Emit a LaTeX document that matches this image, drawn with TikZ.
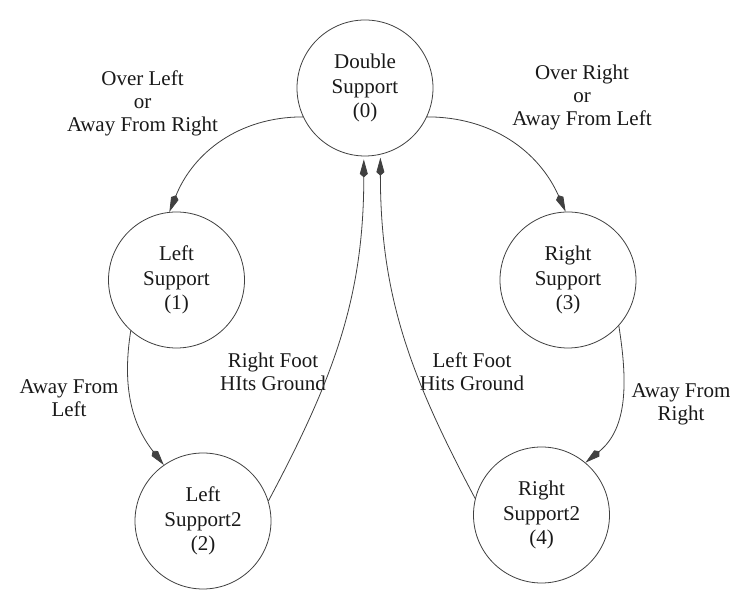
\documentclass[tikz,border=0pt]{standalone}
\usepackage{fontspec}
\setmainfont{Liberation Serif}
\usetikzlibrary{arrows.meta}
\begin{document}
\begin{tikzpicture}[x=1pt,y=1pt,
  state/.style={circle,draw=black!75,line width=0.8pt,minimum size=136pt,inner sep=0pt,align=center,font=\fontsize{21}{24.5}\selectfont,text=black!90},
  lbl/.style={align=center,font=\fontsize{21}{23}\selectfont,text=black!90,inner sep=0pt},
  edge/.style={draw=black!75,line width=0.8pt,-{Kite[length=18pt,width=8pt,inset=3.5pt]}}]
\path[use as bounding box,fill=white] (0,0) rectangle (753,593);
\node[state] (n0) at (365,505) {Double\\Support\\(0)};
\node[state] (n1) at (176.5,313) {Left\\Support\\(1)};
\node[state] (n3) at (568,313) {Right\\Support\\(3)};
\node[state] (n2) at (203,72) {Left\\Support2\\(2)};
\node[state] (n4) at (541.5,78) {Right\\Support2\\(4)};
\node[lbl] (l01) at (142.5,490) {Over Left\\or\\Away From Right};
\node[lbl] (l03) at (582,496) {Over Right\\or\\Away From Left};
\node[lbl] (l12) at (69,195) {Away From\\Left};
\node[lbl] (l20) at (273,221) {Right Foot\\HIts Ground};
\node[lbl] (l40) at (472,221) {Left Foot\\Hits Ground};
\node[lbl] (l34) at (681,189) {Away From\\Right};
\draw[edge] (n0.205) to[out=180,in=68] (n1.96);
\draw[edge] (n0.335) to[out=0,in=114] (n3.92);
\draw[edge] (n1.228) to[out=261,in=128] (n2.125);
\draw[edge] (n3.318) to[out=279,in=39] (n4.50);
\draw[edge] (n2.17) to[out=62,in=270] ([yshift=-3pt]n0.269);
\draw[edge] (n4.166) to[out=118,in=270] ([yshift=-3pt]n0.283);
\end{tikzpicture}
\end{document}
